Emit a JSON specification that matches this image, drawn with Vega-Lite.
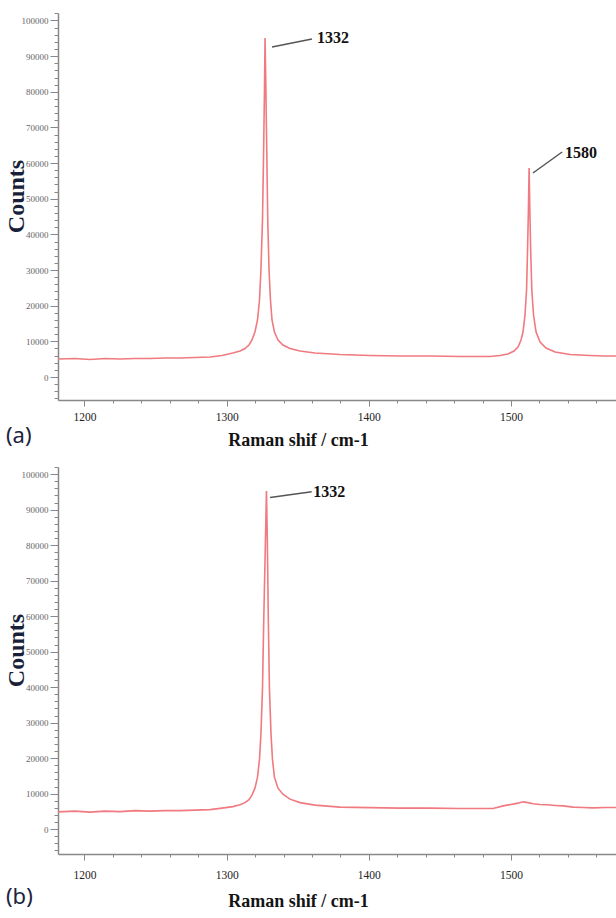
{
  "$schema": "https://vega.github.io/schema/vega-lite/v6.json",
  "padding": {"left": 4, "top": 9, "right": 0, "bottom": 0},
  "background": "white",
  "spacing": 14,
  "config": {
    "view": {"stroke": null},
    "font": "Liberation Serif",
    "axisX": {"domainColor": "#888", "domainWidth": 1.5, "tickColor": "#888", "tickWidth": 1, "labelFont": "Liberation Serif", "labelFontSize": 11.5, "labelColor": "#222", "labelPadding": 5, "grid": false, "labelFlush": false, "labelOverlap": false, "titleFont": "Liberation Serif", "titleFontSize": 18, "titleFontWeight": "bold", "titleColor": "#141414", "titleX": 240, "titleY": 40, "titleAlign": "center", "titleBaseline": "middle"},
    "axisY": {"domainColor": "#888", "domainWidth": 1.5, "tickColor": "#888", "tickWidth": 1, "labelFont": "Liberation Serif", "labelFontSize": 9, "labelColor": "#666", "labelPadding": 2, "grid": false, "labelOverlap": false, "titleFont": "Liberation Serif", "titleFontSize": 24, "titleFontWeight": "bold", "titleColor": "#1a1f3a", "titleX": -42, "titleY": 183, "titleAlign": "center", "titleBaseline": "middle"},
    "title": {"font": "Noto Sans", "fontSize": 22, "fontWeight": "normal", "color": "#1c2340", "orient": "bottom", "anchor": "start", "frame": "group"}
  },
  "datasets": {
    "a": [
      {"shift":1181.4,"counts":5050},{"shift":1193.3,"counts":5190},{"shift":1203.9,"counts":4910},{"shift":1214.4,"counts":5190},{"shift":1225.0,"counts":5050},{"shift":1235.5,"counts":5190},{"shift":1246.1,"counts":5190},{"shift":1256.6,"counts":5330},{"shift":1267.2,"counts":5330},{"shift":1277.7,"counts":5470},{"shift":1288.3,"counts":5610},{"shift":1296.7,"counts":6030},{"shift":1304.4,"counts":6730},{"shift":1309.4,"counts":7290},{"shift":1312.9,"counts":7990},{"shift":1315.7,"counts":8980},{"shift":1317.8,"counts":10380},{"shift":1319.9,"counts":12620},{"shift":1321.7,"counts":15990},{"shift":1323.1,"counts":21600},{"shift":1324.1,"counts":30010},{"shift":1325.2,"counts":44040},{"shift":1325.9,"counts":60870},{"shift":1326.6,"counts":80500},{"shift":1327.0,"counts":95090},{"shift":1327.5,"counts":83310},{"shift":1328.3,"counts":60870},{"shift":1328.9,"counts":44040},{"shift":1329.8,"counts":30010},{"shift":1330.8,"counts":21600},{"shift":1331.9,"counts":15990},{"shift":1333.6,"counts":12620},{"shift":1336.1,"counts":10380},{"shift":1339.6,"counts":8980},{"shift":1344.5,"counts":7990},{"shift":1351.6,"counts":7290},{"shift":1362.1,"counts":6730},{"shift":1379.7,"counts":6310},{"shift":1400.8,"counts":6030},{"shift":1421.9,"counts":5890},{"shift":1443.0,"counts":5890},{"shift":1464.1,"counts":5750},{"shift":1485.2,"counts":5750},{"shift":1492.2,"counts":6030},{"shift":1497.8,"counts":6450},{"shift":1502.1,"counts":7290},{"shift":1504.9,"counts":8420},{"shift":1507.0,"counts":10380},{"shift":1508.4,"counts":12620},{"shift":1509.8,"counts":17390},{"shift":1510.9,"counts":24400},{"shift":1511.6,"counts":35620},{"shift":1512.2,"counts":46840},{"shift":1512.7,"counts":58620},{"shift":1513.2,"counts":46840},{"shift":1513.8,"counts":35620},{"shift":1514.6,"counts":24400},{"shift":1515.8,"counts":17390},{"shift":1517.6,"counts":12620},{"shift":1520.4,"counts":9820},{"shift":1524.6,"counts":8130},{"shift":1531.0,"counts":7010},{"shift":1541.5,"counts":6310},{"shift":1555.6,"counts":6030},{"shift":1566.1,"counts":5890},{"shift":1573.8,"counts":5890}
    ],
    "b": [
      {"shift":1181.4,"counts":4870},{"shift":1193.3,"counts":5070},{"shift":1203.9,"counts":4790},{"shift":1214.4,"counts":5070},{"shift":1225.0,"counts":4930},{"shift":1235.5,"counts":5210},{"shift":1246.1,"counts":5070},{"shift":1256.6,"counts":5210},{"shift":1267.2,"counts":5210},{"shift":1277.7,"counts":5350},{"shift":1288.3,"counts":5490},{"shift":1296.7,"counts":5920},{"shift":1304.4,"counts":6340},{"shift":1309.4,"counts":6900},{"shift":1312.9,"counts":7470},{"shift":1315.7,"counts":8310},{"shift":1317.8,"counts":9580},{"shift":1319.9,"counts":11550},{"shift":1321.7,"counts":14650},{"shift":1323.1,"counts":19720},{"shift":1324.1,"counts":26760},{"shift":1325.2,"counts":39440},{"shift":1326.1,"counts":59160},{"shift":1327.0,"counts":76060},{"shift":1328.0,"counts":95210},{"shift":1328.6,"counts":81690},{"shift":1329.3,"counts":59160},{"shift":1330.1,"counts":39440},{"shift":1331.2,"counts":26760},{"shift":1332.2,"counts":19720},{"shift":1333.6,"counts":14650},{"shift":1336.1,"counts":11550},{"shift":1339.6,"counts":9860},{"shift":1344.5,"counts":8450},{"shift":1351.6,"counts":7470},{"shift":1362.1,"counts":6760},{"shift":1379.7,"counts":6200},{"shift":1400.8,"counts":6060},{"shift":1421.9,"counts":5920},{"shift":1443.0,"counts":5920},{"shift":1464.1,"counts":5830},{"shift":1487.3,"counts":5830},{"shift":1494.4,"counts":6560},{"shift":1501.4,"counts":7040},{"shift":1504.9,"counts":7320},{"shift":1508.4,"counts":7690},{"shift":1511.9,"counts":7470},{"shift":1515.4,"counts":7130},{"shift":1520.4,"counts":6960},{"shift":1525.3,"counts":6850},{"shift":1531.0,"counts":6680},{"shift":1536.6,"counts":6560},{"shift":1543.6,"counts":6200},{"shift":1550.6,"counts":6110},{"shift":1557.7,"counts":6000},{"shift":1566.1,"counts":6110},{"shift":1573.8,"counts":6110}
    ],
    "a_lead": [
      {"x1":1331.9,"c1":92570,"x2":1360.0,"c2":94810},
      {"x1":1515.4,"c1":57220,"x2":1535.9,"c2":63110}
    ],
    "a_lab": [
      {"shift":1363.5,"counts":95090,"label":"1332"},
      {"shift":1538.0,"counts":62830,"label":"1580"}
    ],
    "b_lead": [
      {"x1":1330.5,"c1":93440,"x2":1359.8,"c2":95020}
    ],
    "b_lab": [
      {"shift":1360.9,"counts":94850,"label":"1332"}
    ]
  },
  "vconcat": [
    {
      "width": 558,
      "height": 387,
      "title": {"text": "(a)", "dx": -52, "offset": -23},
      "layer": [
        {
          "data": {"name": "a"},
          "mark": {"type": "line", "color": "#f07a80", "strokeWidth": 1.6, "clip": true},
          "encoding": {
            "x": {"field": "shift", "type": "quantitative", "scale": {"domain": [1181.4, 1573.8], "nice": false, "zero": false},
              "axis": {"title": "Raman shif / cm-1", "tickCount": 200, "labelOverlap": false, "labelFlush": false, "values": [1200,1220,1240,1260,1280,1300,1320,1340,1360,1380,1400,1420,1440,1460,1480,1500,1520,1540,1560], "format": "d", "labelExpr": "datum.value % 100 === 0 ? datum.label : ''", "tickSize": {"condition": {"test": "datum.value % 100 === 0", "value": 6}, "value": 3}}},
            "y": {"field": "counts", "type": "quantitative", "scale": {"domain": [-6450, 102100], "nice": false, "zero": false},
              "axis": {"title": "Counts", "tickCount": 200, "labelOverlap": false, "values": [-6000,-4000,-2000,0,2000,4000,6000,8000,10000,12000,14000,16000,18000,20000,22000,24000,26000,28000,30000,32000,34000,36000,38000,40000,42000,44000,46000,48000,50000,52000,54000,56000,58000,60000,62000,64000,66000,68000,70000,72000,74000,76000,78000,80000,82000,84000,86000,88000,90000,92000,94000,96000,98000,100000,102000], "format": "d", "labelExpr": "datum.value % 10000 === 0 && datum.value >= 0 && datum.value <= 100000 ? datum.label : ''", "tickSize": {"condition": {"test": "datum.value % 10000 === 0", "value": 8}, "value": 4}}}
          }
        },
        {
          "data": {"name": "a_lead"},
          "mark": {"type": "rule", "color": "#555", "strokeWidth": 1.5},
          "encoding": {
            "x": {"field": "x1", "type": "quantitative"},
            "y": {"field": "c1", "type": "quantitative"},
            "x2": {"field": "x2"},
            "y2": {"field": "c2"}
          }
        },
        {
          "data": {"name": "a_lab"},
          "mark": {"type": "text", "align": "left", "baseline": "middle", "font": "Liberation Serif", "fontWeight": "bold", "fontSize": 16, "color": "#111"},
          "encoding": {
            "x": {"field": "shift", "type": "quantitative"},
            "y": {"field": "counts", "type": "quantitative"},
            "text": {"field": "label"}
          }
        }
      ]
    },
    {
      "width": 558,
      "height": 387,
      "title": {"text": "(b)", "dx": -52, "offset": -23},
      "layer": [
        {
          "data": {"name": "b"},
          "mark": {"type": "line", "color": "#f07a80", "strokeWidth": 1.6, "clip": true},
          "encoding": {
            "x": {"field": "shift", "type": "quantitative", "scale": {"domain": [1181.4, 1573.8], "nice": false, "zero": false},
              "axis": {"title": "Raman shif / cm-1", "tickCount": 200, "titleY": 47, "labelPadding": 9, "labelOverlap": false, "labelFlush": false, "values": [1200,1220,1240,1260,1280,1300,1320,1340,1360,1380,1400,1420,1440,1460,1480,1500,1520,1540,1560], "format": "d", "labelExpr": "datum.value % 100 === 0 ? datum.label : ''", "tickSize": {"condition": {"test": "datum.value % 100 === 0", "value": 6}, "value": 3}}},
            "y": {"field": "counts", "type": "quantitative", "scale": {"domain": [-7000, 102000], "nice": false, "zero": false},
              "axis": {"title": "Counts", "tickCount": 200, "labelOverlap": false, "values": [-6000,-4000,-2000,0,2000,4000,6000,8000,10000,12000,14000,16000,18000,20000,22000,24000,26000,28000,30000,32000,34000,36000,38000,40000,42000,44000,46000,48000,50000,52000,54000,56000,58000,60000,62000,64000,66000,68000,70000,72000,74000,76000,78000,80000,82000,84000,86000,88000,90000,92000,94000,96000,98000,100000,102000], "format": "d", "labelExpr": "datum.value % 10000 === 0 && datum.value >= 0 && datum.value <= 100000 ? datum.label : ''", "tickSize": {"condition": {"test": "datum.value % 10000 === 0", "value": 8}, "value": 4}}}
          }
        },
        {
          "data": {"name": "b_lead"},
          "mark": {"type": "rule", "color": "#555", "strokeWidth": 1.5},
          "encoding": {
            "x": {"field": "x1", "type": "quantitative"},
            "y": {"field": "c1", "type": "quantitative"},
            "x2": {"field": "x2"},
            "y2": {"field": "c2"}
          }
        },
        {
          "data": {"name": "b_lab"},
          "mark": {"type": "text", "align": "left", "baseline": "middle", "font": "Liberation Serif", "fontWeight": "bold", "fontSize": 16, "color": "#111"},
          "encoding": {
            "x": {"field": "shift", "type": "quantitative"},
            "y": {"field": "counts", "type": "quantitative"},
            "text": {"field": "label"}
          }
        }
      ]
    }
  ]
}
